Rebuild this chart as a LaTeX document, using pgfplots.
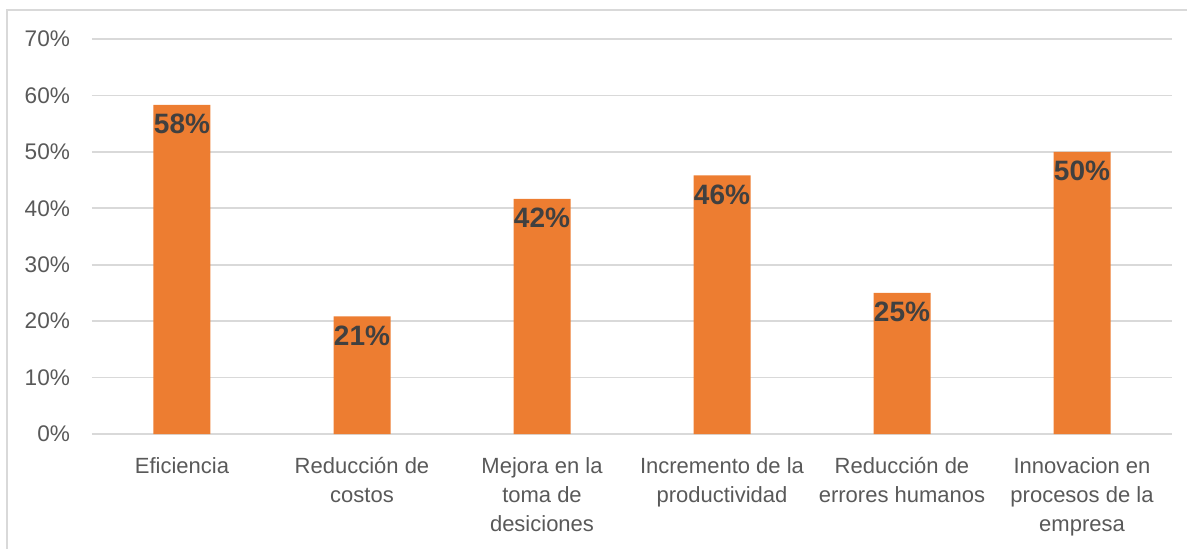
\documentclass[border=0pt]{standalone}
\usepackage{pgfplots}
\pgfplotsset{compat=1.18}
\usepackage{fontspec}
\setmainfont{Liberation Sans}
\definecolor{barorange}{HTML}{ED7D31}
\definecolor{gridgray}{HTML}{D9D9D9}
\definecolor{ticktext}{HTML}{595959}
\definecolor{labeltext}{HTML}{404040}
\begin{document}
\begin{tikzpicture}
% 1 px of the reference = 0.5pt
\begin{axis}[
  scale only axis,
  width=540pt, height=197.5pt,
  ybar, bar width=28.5pt,
  xmin=-0.5, xmax=5.5,
  ymin=0, ymax=70,
  ytick={0,10,...,70},
  yticklabel={\pgfmathprintnumber{\tick}\%},
  /pgf/number format/assume math mode=true,
  xtick=data,
  xticklabels={Eficiencia, Reducción de\\costos, Mejora en la\\toma de\\desiciones,
    Incremento de la\\productividad, Reducción de\\errores humanos,
    Innovacion en\\procesos de la\\empresa},
  x tick label style={align=center, font=\fontsize{11}{14.5}\selectfont, text=ticktext, yshift=-8pt},
  y tick label style={font=\fontsize{11.3}{12}\selectfont, text=ticktext, xshift=-7.5pt},
  major tick length=0pt,
  ymajorgrids,
  major grid style={gridgray, line width=0.8pt},
  axis line style={draw=none},
  nodes near coords={\pgfmathprintnumber[fixed,precision=0]{\pgfplotspointmeta}\%},
  nodes near coords style={anchor=north, yshift=-4.5pt, inner sep=0pt,
    font=\fontsize{14}{14}\selectfont\bfseries, text=labeltext},
  clip=false,
]
\addplot[fill=barorange, draw=none] coordinates
{(0,58.33) (1,20.83) (2,41.67) (3,45.83) (4,25) (5,50)};
\end{axis}
% outer chart border
\draw[gridgray, line width=0.8pt] (-42.5pt,-80pt) -- (-42.5pt,212pt) -- (600pt,212pt);
\pgfresetboundingbox
\path[use as bounding box] (-46pt,-57pt) rectangle (547.5pt,217pt);
\end{tikzpicture}
\end{document}
